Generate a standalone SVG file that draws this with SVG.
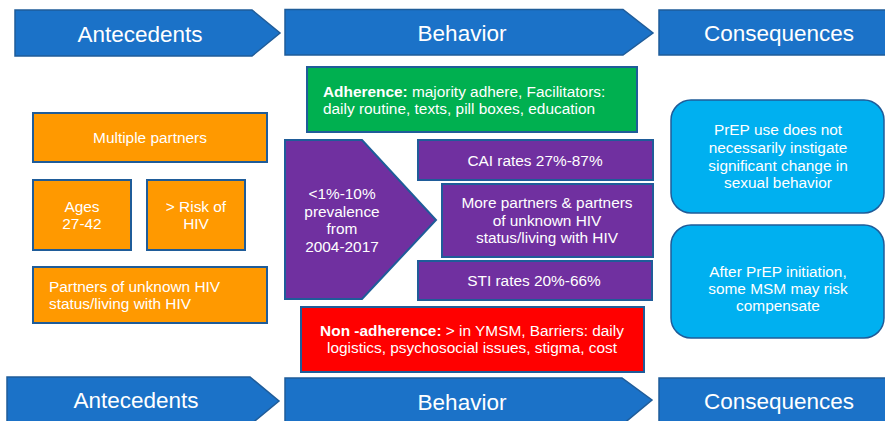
<svg xmlns="http://www.w3.org/2000/svg" width="885" height="421" viewBox="0 0 885 421">
<style>
text{font-family:"Liberation Sans",Arial,sans-serif;fill:#fff}
.hdr{fill:#1b72c8;stroke:#1f5c99;stroke-width:1.5}
.hdrt{font-size:22.5px;text-anchor:middle}
.or{fill:#ff9900;stroke:#1f5c99;stroke-width:2}
.pu{fill:#7030a0;stroke:#1f5c99;stroke-width:2}
.gr{fill:#00b050;stroke:#1f5c99;stroke-width:2}
.rd{fill:#ff0000;stroke:#1f5c99;stroke-width:2}
.cy{fill:#00b0f0;stroke:#1f5c99;stroke-width:1.5}
.t{font-size:15.4px}
.c{text-anchor:middle}
.b{font-weight:bold}
</style>
<rect width="885" height="421" fill="#fff"/>
<g id="hdr-antecedents-top">
<polygon class="hdr" points="15,10 252,10 280,33 252,56 15,56"/>
<text class="hdrt" x="140" y="42">Antecedents</text>
</g>
<g id="hdr-behavior-top">
<polygon class="hdr" points="285,9.5 623,9.5 653,33 623,55 285,55"/>
<text class="hdrt" x="462" y="41">Behavior</text>
</g>
<g id="hdr-consequences-top">
<rect class="hdr" x="659" y="10" width="230" height="45"/>
<text class="hdrt" x="779" y="41">Consequences</text>
</g>
<g id="hdr-antecedents-bottom">
<polygon class="hdr" points="7,377 250,377 279,401 250,425 7,425"/>
<text class="hdrt" x="136" y="408">Antecedents</text>
</g>
<g id="hdr-behavior-bottom">
<polygon class="hdr" points="285,378 622,378 652,400 622,425 285,425"/>
<text class="hdrt" x="462" y="410">Behavior</text>
</g>
<g id="hdr-consequences-bottom">
<rect class="hdr" x="659" y="378" width="230" height="48"/>
<text class="hdrt" x="779" y="409">Consequences</text>
</g>
<g id="multiple-partners">
<rect class="or" x="33" y="113" width="234" height="49"/>
<text class="t c" x="150" y="143">Multiple partners</text>
</g>
<g id="ages">
<rect class="or" x="33" y="180" width="98" height="70"/>
<text class="t c" x="82" y="212">Ages</text>
<text class="t c" x="82" y="229">27-42</text>
</g>
<g id="risk">
<rect class="or" x="147" y="180" width="98" height="70"/>
<text class="t c" x="196" y="212">&gt; Risk of</text>
<text class="t c" x="196" y="229">HIV</text>
</g>
<g id="partners-unknown">
<rect class="or" x="33" y="267" width="234" height="56"/>
<text class="t" x="49" y="292">Partners of unknown HIV</text>
<text class="t" x="49" y="309">status/living with HIV</text>
</g>
<g id="adherence">
<rect class="gr" x="307" y="67" width="330" height="65"/>
<text class="t" x="323" y="97"><tspan class="b">Adherence:</tspan> majority adhere, Facilitators:</text>
<text class="t" x="323" y="114">daily routine, texts, pill boxes, education</text>
</g>
<g id="prevalence">
<polygon class="pu" points="285,140 362,140 436,220 362,299 285,299"/>
<text class="t c" x="342" y="199">&lt;1%-10%</text>
<text class="t c" x="342" y="216.5">prevalence</text>
<text class="t c" x="342" y="234">from</text>
<text class="t c" x="342" y="251.5">2004-2017</text>
</g>
<g id="cai">
<rect class="pu" x="418" y="140" width="235" height="40"/>
<text class="t c" x="535" y="166">CAI rates 27%-87%</text>
</g>
<g id="more-partners">
<rect class="pu" x="442" y="184" width="211" height="73"/>
<text class="t c" x="547" y="208">More partners &amp; partners</text>
<text class="t c" x="547" y="226">of unknown HIV</text>
<text class="t c" x="547" y="243">status/living with HIV</text>
</g>
<g id="sti">
<rect class="pu" x="418" y="261" width="234" height="39"/>
<text class="t c" x="534" y="286">STI rates 20%-66%</text>
</g>
<g id="non-adherence">
<rect class="rd" x="301" y="307" width="343" height="65"/>
<text class="t c" x="472" y="336"><tspan class="b">Non -adherence:</tspan> &gt; in YMSM, Barriers: daily</text>
<text class="t c" x="472" y="353">logistics, psychosocial issues, stigma, cost</text>
</g>
<g id="prep-no-change">
<rect class="cy" x="671" y="100" width="213" height="113" rx="20"/>
<text class="t c" x="778" y="135">PrEP use does not</text>
<text class="t c" x="778" y="153">necessarily instigate</text>
<text class="t c" x="778" y="171">significant change in</text>
<text class="t c" x="778" y="188">sexual behavior</text>
</g>
<g id="risk-compensate">
<rect class="cy" x="671" y="225" width="213" height="113" rx="20"/>
<text class="t c" x="778" y="277">After PrEP initiation,</text>
<text class="t c" x="778" y="294">some MSM may risk</text>
<text class="t c" x="778" y="311">compensate</text>
</g>
<g id="connectors"/>
</svg>
